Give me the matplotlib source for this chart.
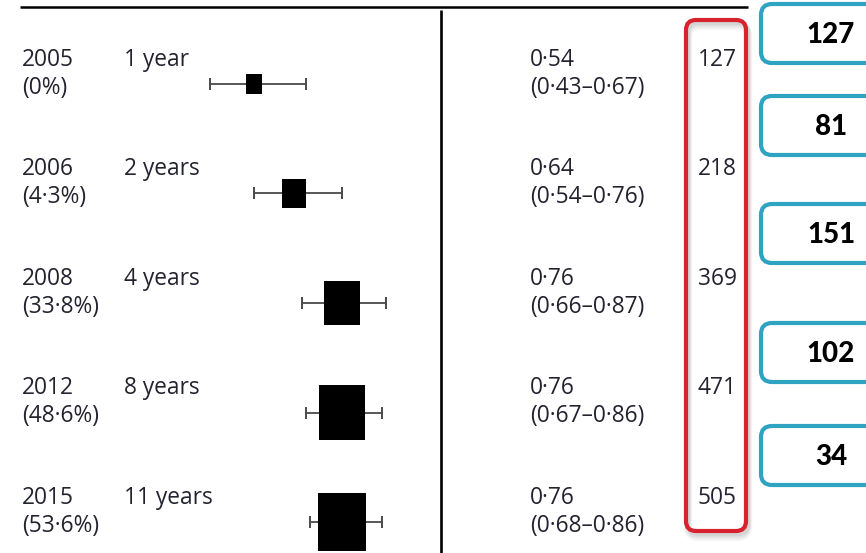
import matplotlib.pyplot as plt
import matplotlib.transforms as mtransforms
from matplotlib.patches import Rectangle, FancyBboxPatch

# Forest plot data
years = ["2005", "2006", "2008", "2012", "2015"]
pct = ["(0%)", "(4·3%)", "(33·8%)", "(48·6%)", "(53·6%)"]
follow_up = ["1 year", "2 years", "4 years", "8 years", "11 years"]
hr = [0.54, 0.64, 0.76, 0.76, 0.76]
ci_low = [0.43, 0.54, 0.66, 0.67, 0.68]
ci_high = [0.67, 0.76, 0.87, 0.86, 0.86]
counts = [127, 218, 369, 471, 505]
increments = [127, 81, 151, 102, 34]

W, H = 866, 553
fig = plt.figure(figsize=(W / 100, H / 100), dpi=100)

# layout axes in pixel units
lay = fig.add_axes([0, 0, 1, 1])
lay.set_xlim(0, W)
lay.set_ylim(H, 0)
lay.axis("off")

# forest axes: hazard ratio on x, row index on y
ax = fig.add_axes([0, 0, 1, 1])
ax.set_xlim(0.43 - 210 / 400, 0.43 + (W - 210) / 400)
ax.set_ylim((H - 84) / 109.5, -84 / 109.5)
ax.axis("off")
ax.patch.set_alpha(0)

rows = list(range(len(years)))
txt = "#23232f"
font = "Open Sans"
fs = 16.4
tr = mtransforms.blended_transform_factory(lay.transData, ax.transData)

# frame lines
lay.plot([20, 748], [7, 7], color="black", lw=1.8, solid_capstyle="butt")
lay.plot([441, 441], [10, H], color="black", lw=1.9, solid_capstyle="butt")

# error bars and weighted boxes
ax.errorbar(hr, rows, xerr=[[h - l for h, l in zip(hr, ci_low)],
                            [u - h for h, u in zip(hr, ci_high)]],
            fmt="none", ecolor="#4a4a4a", elinewidth=1.3, capsize=4.3,
            capthick=1.4, zorder=2)
for i, (h, n) in enumerate(zip(hr, counts)):
    size = 5.2 + 0.0847 * n
    bw = size / 400
    bh = 1.2 * size / 109.5
    ax.add_patch(Rectangle((h - bw / 2, i - bh / 2), bw, bh,
                           facecolor="black", edgecolor="none", zorder=3))

# text columns
for i in rows:
    top = i - 0.222
    bot = i + 0.032
    ax.text(22, top, years[i], transform=tr, family=font, fontsize=fs,
            color=txt, va="center", ha="left")
    ax.text(22, bot, pct[i], transform=tr, family=font, fontsize=fs,
            color=txt, va="center", ha="left")
    ax.text(124, top, follow_up[i], transform=tr, family=font, fontsize=fs,
            color=txt, va="center", ha="left")
    ax.text(530, top, f"{hr[i]:.2f}".replace(".", "·"), transform=tr,
            family=font, fontsize=fs, color=txt, va="center", ha="left")
    ci = f"({ci_low[i]:.2f}–{ci_high[i]:.2f})".replace(".", "·")
    ax.text(530, bot, ci, transform=tr, family=font, fontsize=fs,
            color=txt, va="center", ha="left")
    ax.text(698, top, str(counts[i]), transform=tr, family=font,
            fontsize=fs, color=txt, va="center", ha="left")

# red highlight box with soft shadow
for k, a in enumerate([0.06, 0.08, 0.10, 0.12]):
    off = 6 - k
    lay.add_patch(FancyBboxPatch((686 + 2, 20 + off), 60, 511,
                                 boxstyle="round,pad=0,rounding_size=10",
                                 facecolor="none", edgecolor="gray",
                                 lw=6 - k, alpha=a, zorder=4))
lay.add_patch(FancyBboxPatch((686, 20), 60, 511,
                             boxstyle="round,pad=0,rounding_size=10",
                             facecolor="none", edgecolor="#d8232e",
                             lw=3.0, zorder=5))

# blue callout boxes
box_tops = [4, 96, 204, 323, 426]
for top, val in zip(box_tops, increments):
    lay.add_patch(FancyBboxPatch((761, top), 170, 59,
                                 boxstyle="round,pad=0,rounding_size=11",
                                 facecolor="white", edgecolor="#2fa3c2",
                                 lw=3.0, zorder=5))
    lay.text(831, top + 31, str(val), family="Lato", fontweight="black",
             fontsize=20, color="black", ha="center", va="center", zorder=6)

fig.savefig("out.png", dpi=100)
